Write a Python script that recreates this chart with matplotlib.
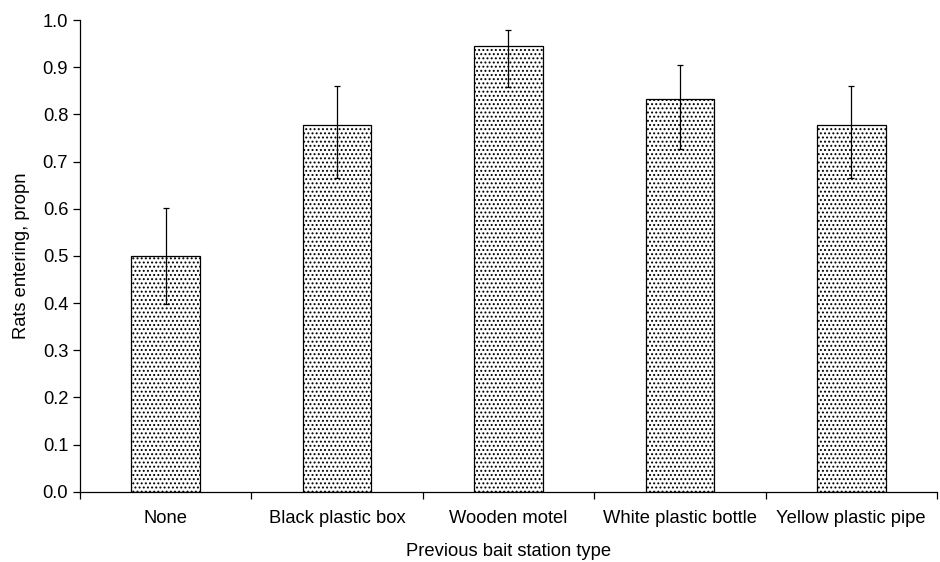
import numpy as np
import matplotlib
matplotlib.use('Agg')
import matplotlib.pyplot as plt

# data
categories = ["None", "Black plastic box", "Wooden motel", "White plastic bottle", "Yellow plastic pipe"]
props = [0.500, 0.778, 0.944, 0.833, 0.778]
err_low = [0.398, 0.666, 0.859, 0.727, 0.666]
err_high = [0.602, 0.861, 0.979, 0.905, 0.861]

plt.rcParams['font.family'] = ['Liberation Sans', 'DejaVu Sans']
plt.rcParams['hatch.linewidth'] = 0.9
plt.rcParams['hatch.color'] = '#333333'

fs = 13.2
fig = plt.figure(figsize=(9.4, 5.62), dpi=100)
ax = fig.add_axes([0.0851, 0.1251, 0.9117, 0.8393])

x = np.arange(len(categories))
yerr = [np.array(props) - np.array(err_low), np.array(err_high) - np.array(props)]
ax.bar(x, props, width=0.4, color='white', edgecolor='black', linewidth=0.9,
       hatch='....', zorder=2)
ax.errorbar(x, props, yerr=yerr, fmt='none', ecolor='black', elinewidth=0.9,
            capsize=2.5, capthick=0.9, zorder=3)

ax.set_xlim(-0.5, len(categories) - 0.5)
ax.set_ylim(0, 1.0)
ax.set_yticks(np.arange(0, 1.01, 0.1))
ax.set_yticklabels(["%.1f" % v for v in np.arange(0, 1.01, 0.1)], fontsize=fs)

# category ticks sit between the bars, labels under the bars
ax.set_xticks(np.arange(-0.5, len(categories), 1.0))
ax.set_xticklabels([])
ax.set_xticks(x, minor=True)
ax.set_xticklabels(categories, minor=True, fontsize=fs)
ax.tick_params(axis='x', which='minor', length=0, pad=13)
ax.tick_params(axis='both', which='major', direction='out', length=5, width=0.9)

for s in ['top', 'right']:
    ax.spines[s].set_visible(False)
for s in ['left', 'bottom']:
    ax.spines[s].set_linewidth(0.9)

ax.set_xlabel("Previous bait station type", fontsize=fs, labelpad=12)
ax.set_ylabel("Rats entering, propn", fontsize=fs, labelpad=9)

plt.savefig("out.png", dpi=100)
